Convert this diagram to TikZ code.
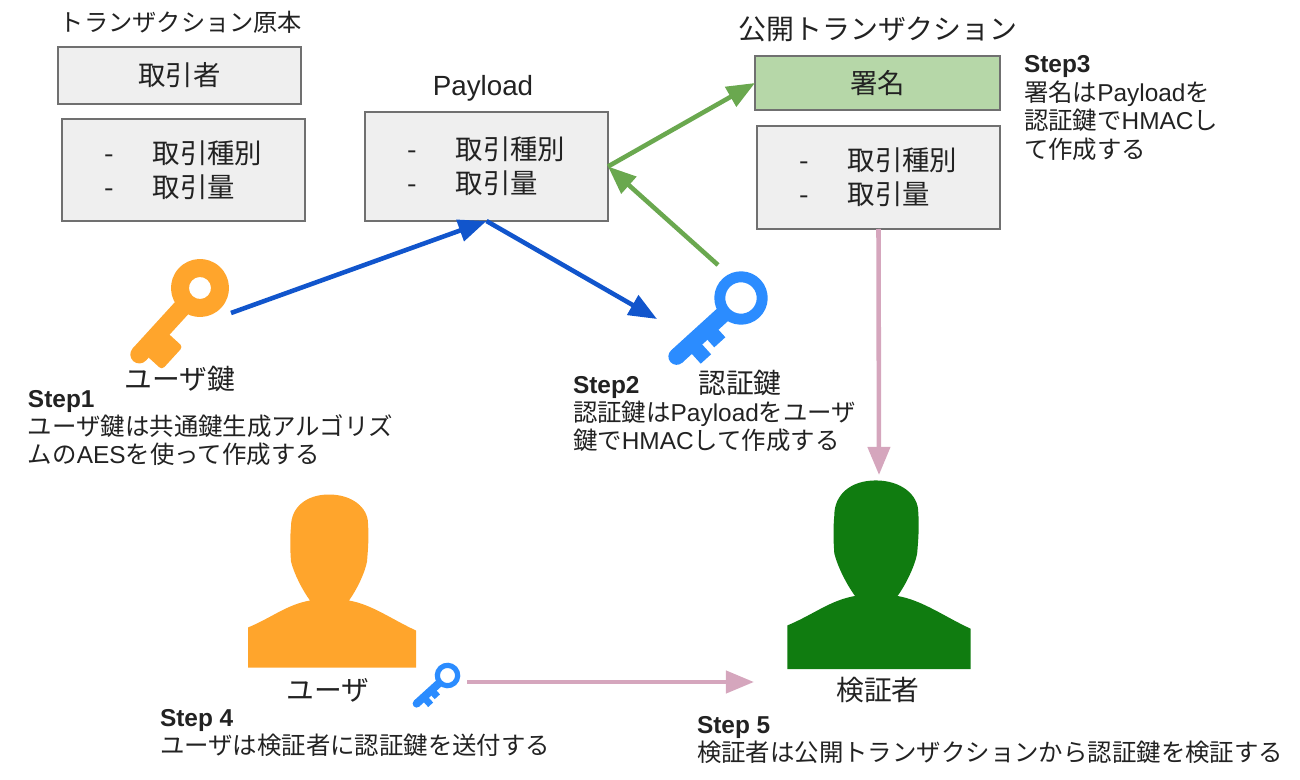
\documentclass[tikz,border=0pt]{standalone}
\usepackage{fontspec}
\setmainfont{Noto Sans CJK JP}
\newfontfamily\lat{Liberation Sans}
\usetikzlibrary{positioning, calc, arrows.meta}
\definecolor{boxgray}{HTML}{EFEFEF}
\definecolor{boxline}{HTML}{707070}
\definecolor{signgreen}{HTML}{B6D7A8}
\definecolor{arrblue}{HTML}{1155CC}
\definecolor{arrgreen}{HTML}{6AA84F}
\definecolor{arrpink}{HTML}{D5A6BD}
\definecolor{keyorange}{HTML}{FFA52C}
\definecolor{keyblue}{HTML}{2B8CFF}
\definecolor{darkgreen}{HTML}{107C10}
\definecolor{textgray}{HTML}{222222}
\newcommand{\steplabel}[1]{{\lat\bfseries #1}}

\begin{document}
\begin{tikzpicture}[
  x=0.02cm, y=-0.02cm,
  every node/.append style={inner sep=0pt, outer sep=0pt, text=textgray},
  rec/.style={draw=boxline, line width=0.8pt, fill=boxgray, font=\fontsize{15.6}{19.3}\selectfont, align=left},
  lbl/.style={font=\fontsize{15.8}{19}\selectfont},
  stp/.style={anchor=west, align=left, font=\fontsize{13.9}{16.2}\selectfont},
  arr/.style={-{Triangle[length=16pt, width=12.5pt]}, line width=2.6pt},
  pics/person/.style={code={
    \fill (-84,0) -- (-84,-40) .. controls (-60,-50) and (-45,-63) .. (-22,-67)
      .. controls (-30,-78) and (-38,-94) .. (-41,-106)
      .. controls (-42,-120) and (-42,-130) .. (-41,-141)
      .. controls (-41,-160) and (-26,-173) .. (-3,-173)
      .. controls (20,-173) and (36,-160) .. (36,-144)
      .. controls (37,-130) and (36,-118) .. (35,-106)
      .. controls (33,-95) and (25,-78) .. (17,-67)
      .. controls (40,-63) and (60,-48) .. (84,-37) -- (84,0) -- cycle;
  }},
  pics/keyorange/.style={code={
    \fill[even odd rule] (0,0) circle (29) (0,0) circle (11);
    \fill (20,-9) rectangle (90,9);
    \fill (90,0) circle (9);
    \fill[rounded corners=2pt] (55,0) -- (55,-27) -- (86,-27) -- (86,0) -- cycle;
  }},
  pics/keyblue/.style={code={
    \fill[even odd rule] (0,0) circle (26.7) (0,0) circle (15.7);
    \fill (22,-8.3) rectangle (87,8.3);
    \fill (87,0) circle (8.3);
    \fill (38,0) -- (38,-18.5) -- (53,-18.5) -- (53,0) -- cycle;
    \fill (60,0) -- (60,-21.5) -- (74,-21.5) -- (74,0) -- cycle;
  }},
]
\useasboundingbox (0,0) rectangle (1300,780);

%% original transaction
\node[lbl, font=\fontsize{13.8}{19}\selectfont] (title1) at (181,22) {トランザクション原本};
\node[rec, minimum width=243*0.02cm, minimum height=57*0.02cm, align=center] (trader) at (179.5,75.5) {取引者};
\node[rec, minimum width=243*0.02cm, minimum height=102*0.02cm] (list1) at (183.5,170) {-\hspace{1.4em}取引種別\\-\hspace{1.4em}取引量};

%% payload
\node[lbl] (title2) at (483,88) {\lat Payload};
\node[rec, minimum width=243*0.02cm, minimum height=109*0.02cm] (payload) at (486.5,166.5) {-\hspace{1.4em}取引種別\\-\hspace{1.4em}取引量};

%% public transaction
\node[lbl, font=\fontsize{15.9}{19}\selectfont] (title3) at (878,29) {公開トランザクション};
\node[rec, fill=signgreen, minimum width=245*0.02cm, minimum height=54*0.02cm, align=center] (sign) at (877.5,83) {署名};
\node[rec, minimum width=243*0.02cm, minimum height=103*0.02cm] (list3) at (878.5,177.5) {-\hspace{1.4em}取引種別\\-\hspace{1.4em}取引量};

%% keys
\pic[fill=keyorange, rotate=227.6] at (200,288) {keyorange};
\pic[fill=keyblue, rotate=222.3] at (741,298) {keyblue};
\pic[fill=keyblue, rotate=222.3, scale=0.48] at (447.5,675.5) {keyblue};
\node[lbl] (userkeylbl) at (180,379) {ユーザ鍵};
\node[lbl] (authkeylbl) at (740,383) {認証鍵};

%% persons
\pic[fill=keyorange] at (332,667.5) {person};
\pic[fill=darkgreen, scale=1.09] at (879,669) {person};
\node[lbl] (userlbl) at (328,690) {ユーザ};
\node[lbl] (verifierlbl) at (878,690) {検証者};

%% steps
\node[stp] (step1) at (28,428) {\steplabel{Step1}\\ユーザ鍵は共通鍵生成アルゴリズ\\ムの{\lat AES}を使って作成する};
\node[stp] (step2) at (573,414) {\steplabel{Step2}\\認証鍵は{\lat Payload}をユーザ\\鍵で{\lat HMAC}して作成する};
\node[stp] (step3) at (1024,108) {\steplabel{Step3}\\署名は{\lat Payload}を\\認証鍵で{\lat HMAC}し\\て作成する};
\node[stp] (step4) at (160,733) {\steplabel{Step 4}\\ユーザは検証者に認証鍵を送付する};
\node[stp] (step5) at (697,740) {\steplabel{Step 5}\\検証者は公開トランザクションから認証鍵を検証する};

%% connectors
\coordinate (userkey) at (231,313);
\coordinate (authkeyin) at (657,319);
\coordinate (authkeyout) at (718,265);
\coordinate (verifiertop) at (879,475);
\coordinate (smallkey) at (467,682);
\coordinate (verifierleft) at (754,682);
\draw[arr, arrblue] (userkey) -- (payload.south);
\draw[arr, arrblue] (payload.south) -- (authkeyin);
\draw[arr, arrgreen] (payload.east) -- (sign.west);
\draw[arr, arrgreen] (authkeyout) -- (payload.east);
\draw[arr, arrpink] (list3.south) -- (verifiertop);
\draw[arr, arrpink] (smallkey) -- (verifierleft);

\end{tikzpicture}
\end{document}
